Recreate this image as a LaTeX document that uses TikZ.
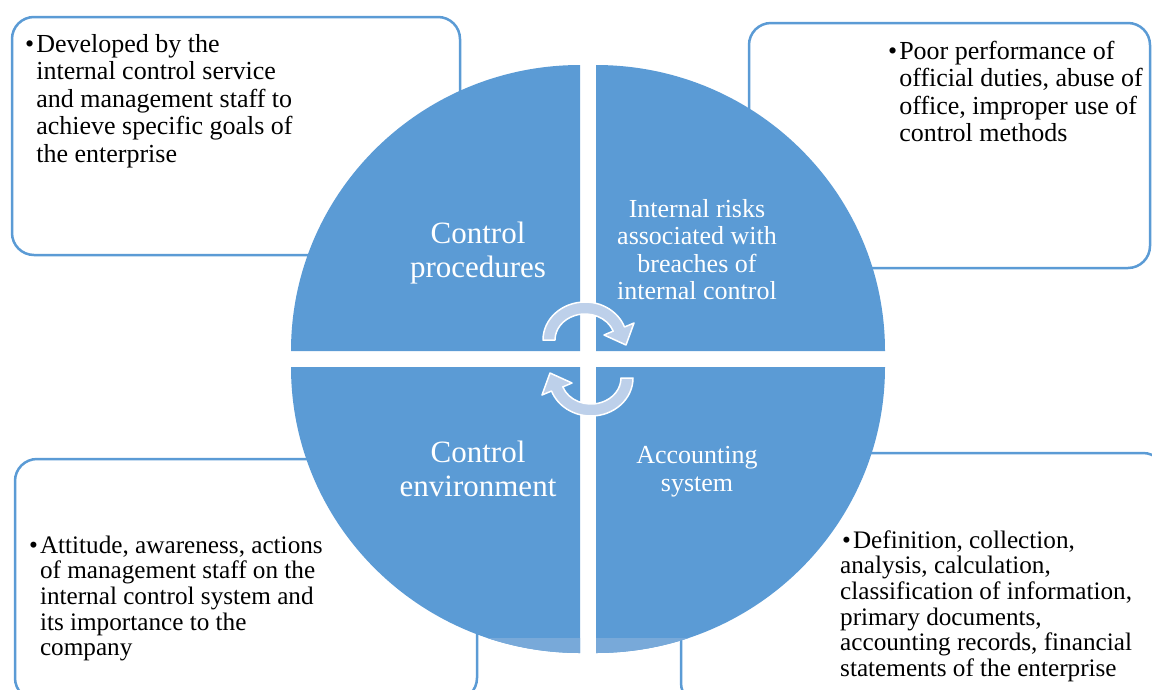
\documentclass[tikz,border=0pt]{standalone}
\usepackage{fontspec}
\setmainfont{Liberation Serif}
\definecolor{qblue}{HTML}{5B9BD5}
\definecolor{qlight}{HTML}{78A9D9}
\definecolor{arrowfill}{HTML}{BDD0EA}
\begin{document}
\begin{tikzpicture}[x=1pt,y=-1pt,
  infobox/.style={draw=qblue, line width=2.5pt, fill=white, rounded corners=22pt},
  quarter/.style={fill=qblue},
  cyclearrow/.style={fill=arrowfill, draw=white, line width=1.5pt, line join=round},
  bigtext/.style={text=white, font=\fontsize{31}{34}\selectfont, align=center, inner sep=0pt},
  midtext/.style={text=white, font=\fontsize{26}{27.5}\selectfont, align=center, inner sep=0pt},
  toptext/.style={text=black, font=\fontsize{26}{27.5}\selectfont, inner sep=0pt, anchor=base west},
  lowtext/.style={text=black, font=\fontsize{25.2}{25.7}\selectfont, inner sep=0pt, anchor=base west}]
\useasboundingbox (0,0) rectangle (1152,689);
\clip (0,0) rectangle (1152,689);

% side boxes (behind the circle)
\draw[infobox] (12,17) rectangle (460,255);
\draw[infobox] (749,23) rectangle (1150,268);
\draw[infobox] (15,459) rectangle (477,700);
\draw[infobox] (681,453) rectangle (1165,705);

% four quarters
\fill[quarter] (580,351) -- (291,351) arc[start angle=180, end angle=270, x radius=289, y radius=286] -- cycle;
\fill[quarter] (596,351) -- (596,65) arc[start angle=270, end angle=360, x radius=289, y radius=286] -- cycle;
\fill[quarter] (596,367) -- (885,367) arc[start angle=0, end angle=90, x radius=289, y radius=286] -- cycle;
\fill[quarter] (580,367) -- (580,653) arc[start angle=90, end angle=180, x radius=289, y radius=286] -- cycle;
% lighter reflection band at the bottom
\begin{scope}
  \clip (0,638) rectangle (1152,689);
  \fill[qlight] (596,367) -- (885,367) arc[start angle=0, end angle=90, x radius=289, y radius=286] -- cycle;
  \fill[qlight] (580,367) -- (580,653) arc[start angle=90, end angle=180, x radius=289, y radius=286] -- cycle;
\end{scope}

% circular arrows
\path[cyclearrow] (543,340) arc[start angle=180, end angle=340, x radius=42, y radius=38]
  -- (634,323) -- (626,345) -- (604,335)
  -- (613.2,331.1) arc[start angle=340, end angle=180, x radius=30, y radius=26] -- cycle;
\path[cyclearrow, rotate around={180:(588,359)}] (543,340) arc[start angle=180, end angle=340, x radius=42, y radius=38]
  -- (634,323) -- (626,345) -- (604,335)
  -- (613.2,331.1) arc[start angle=340, end angle=180, x radius=30, y radius=26] -- cycle;

% quarter labels
\node[bigtext] (cp) at (478,253) {Control\\procedures};
\node[midtext] (ir) at (697,249.5) {Internal risks\\associated with\\breaches of\\internal control};
\node[bigtext] (ce) at (478,469) {Control\\environment};
\node[midtext] (as) at (697,471.5) {Accounting\\system};

% box texts
\node[toptext] (tltext) at (25,52) {\begin{tabular}[t]{@{}l@{\hspace{2pt}}l@{}}\textbullet & Developed by the\\ & internal control service\\ & and management staff to\\ & achieve specific goals of\\ & the enterprise\end{tabular}};
\node[toptext] (trtext) at (888,59) {\begin{tabular}[t]{@{}l@{\hspace{2pt}}l@{}}\textbullet & Poor performance of\\ & official duties, abuse of\\ & office, improper use of\\ & control methods\end{tabular}};
\node[lowtext] (bltext) at (29,553) {\begin{tabular}[t]{@{}l@{\hspace{2pt}}l@{}}\textbullet & Attitude, awareness, actions\\ & of management staff on the\\ & internal control system and\\ & its importance to the\\ & company\end{tabular}};
\node[lowtext] (brtext) at (840,548) {\begin{tabular}[t]{@{}l@{}}\hspace*{2pt}\textbullet\hspace{2pt}Definition, collection,\\ analysis, calculation,\\ classification of information,\\ primary documents,\\ accounting records, financial\\ statements of the enterprise\end{tabular}};
\end{tikzpicture}
\end{document}
